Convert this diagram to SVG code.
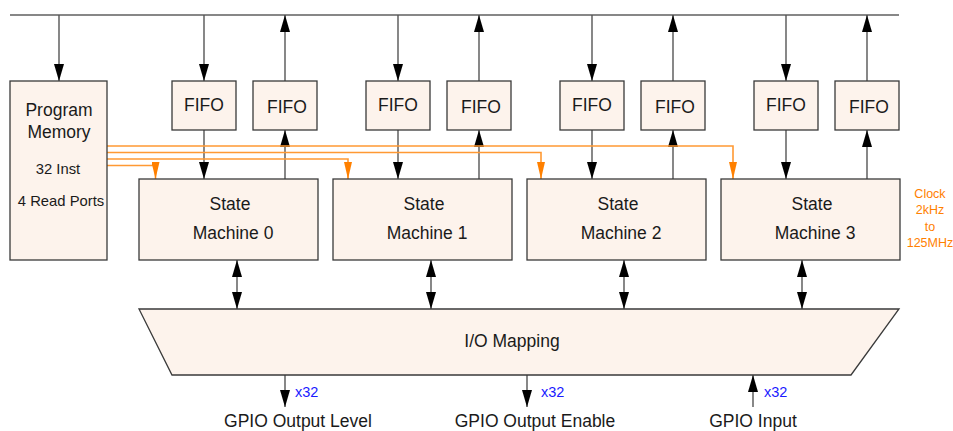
<svg xmlns="http://www.w3.org/2000/svg" width="953" height="431" viewBox="0 0 953 431">
<defs>
<style>
.box{fill:#fdf3ec;stroke:#3a3a3a;stroke-width:1.3}
.t{font-family:"Liberation Sans",Arial,sans-serif;font-size:17.5px;fill:#1a1a1a;text-anchor:middle}
.s{font-family:"Liberation Sans",Arial,sans-serif;font-size:14.8px;fill:#1a1a1a;text-anchor:middle}
.x32{font-family:"Liberation Sans",Arial,sans-serif;font-size:14.5px;fill:#1a1aff}
.clk{font-family:"Liberation Sans",Arial,sans-serif;font-size:12.5px;fill:#ff8000;text-anchor:middle}
.ln{fill:none;stroke:#555;stroke-width:1.4}
.bus{fill:none;stroke:#111;stroke-width:1.2}
.or{fill:none;stroke:#ff9933;stroke-width:1.6}
</style>
<marker id="ah" markerUnits="userSpaceOnUse" markerWidth="17" markerHeight="10" refX="17" refY="5" orient="auto-start-reverse"><path d="M0,0 L17,5 L0,10 z" fill="#000"/></marker>
<marker id="oh" markerUnits="userSpaceOnUse" markerWidth="17" markerHeight="8" refX="17" refY="4" orient="auto"><path d="M0,0 L17,4 L0,8 z" fill="#ff8000"/></marker>
</defs>
<rect width="953" height="431" fill="#fff"/>

<g id="connectors">
<line class="bus" x1="10" y1="15" x2="899" y2="15"/>
<line class="ln" x1="59" y1="15" x2="59" y2="81" marker-end="url(#ah)"/>
<line class="ln" x1="204" y1="15" x2="204" y2="81" marker-end="url(#ah)"/>
<line class="ln" x1="204" y1="130" x2="204" y2="179" marker-end="url(#ah)"/>
<line class="ln" x1="285" y1="179" x2="285" y2="130" marker-end="url(#ah)"/>
<line class="ln" x1="285" y1="81" x2="285" y2="15" marker-end="url(#ah)"/>
<line class="ln" x1="398" y1="15" x2="398" y2="81" marker-end="url(#ah)"/>
<line class="ln" x1="398" y1="130" x2="398" y2="179" marker-end="url(#ah)"/>
<line class="ln" x1="479" y1="179" x2="479" y2="130" marker-end="url(#ah)"/>
<line class="ln" x1="479" y1="81" x2="479" y2="15" marker-end="url(#ah)"/>
<line class="ln" x1="592" y1="15" x2="592" y2="81" marker-end="url(#ah)"/>
<line class="ln" x1="592" y1="130" x2="592" y2="179" marker-end="url(#ah)"/>
<line class="ln" x1="673" y1="179" x2="673" y2="130" marker-end="url(#ah)"/>
<line class="ln" x1="673" y1="81" x2="673" y2="15" marker-end="url(#ah)"/>
<line class="ln" x1="786" y1="15" x2="786" y2="81" marker-end="url(#ah)"/>
<line class="ln" x1="786" y1="130" x2="786" y2="179" marker-end="url(#ah)"/>
<line class="ln" x1="867" y1="179" x2="867" y2="130" marker-end="url(#ah)"/>
<line class="ln" x1="867" y1="81" x2="867" y2="15" marker-end="url(#ah)"/>
<polyline class="or" points="107,146 733,146 733,179" marker-end="url(#oh)"/>
<polyline class="or" points="107,152.5 541,152.5 541,179" marker-end="url(#oh)"/>
<polyline class="or" points="107,159 348,159 348,179" marker-end="url(#oh)"/>
<polyline class="or" points="107,165.5 155.5,165.5 155.5,179" marker-end="url(#oh)"/>
<line class="ln" x1="237" y1="260" x2="237" y2="309" marker-start="url(#ah)" marker-end="url(#ah)"/>
<line class="ln" x1="431" y1="260" x2="431" y2="309" marker-start="url(#ah)" marker-end="url(#ah)"/>
<line class="ln" x1="624" y1="260" x2="624" y2="309" marker-start="url(#ah)" marker-end="url(#ah)"/>
<line class="ln" x1="802" y1="260" x2="802" y2="309" marker-start="url(#ah)" marker-end="url(#ah)"/>
<line class="ln" x1="285" y1="375" x2="285" y2="407" marker-end="url(#ah)"/>
<line class="ln" x1="527" y1="375" x2="527" y2="407" marker-end="url(#ah)"/>
<line class="ln" x1="753" y1="407" x2="753" y2="375" marker-end="url(#ah)"/>
</g>

<g id="program-memory">
<rect class="box" x="10" y="81" width="97" height="179"/>
<text class="t" x="59" y="115.5">Program</text>
<text class="t" x="59" y="138">Memory</text>
<text class="s" x="58" y="174">32 Inst</text>
<text class="s" x="61" y="205.5">4 Read Ports</text>
</g>

<g id="fifo-in-0"><rect class="box" x="172" y="81" width="64" height="49"/><text class="t" x="204" y="111">FIFO</text></g>
<g id="fifo-out-0"><rect class="box" x="253" y="81" width="64" height="49"/><text class="t" x="287" y="113">FIFO</text></g>
<g id="fifo-in-1"><rect class="box" x="366" y="81" width="64" height="49"/><text class="t" x="398" y="111">FIFO</text></g>
<g id="fifo-out-1"><rect class="box" x="447" y="81" width="64" height="49"/><text class="t" x="481" y="113">FIFO</text></g>
<g id="fifo-in-2"><rect class="box" x="560" y="81" width="64" height="49"/><text class="t" x="592" y="111">FIFO</text></g>
<g id="fifo-out-2"><rect class="box" x="641" y="81" width="64" height="49"/><text class="t" x="675" y="113">FIFO</text></g>
<g id="fifo-in-3"><rect class="box" x="754" y="81" width="64" height="49"/><text class="t" x="786" y="111">FIFO</text></g>
<g id="fifo-out-3"><rect class="box" x="835" y="81" width="64" height="49"/><text class="t" x="869" y="113">FIFO</text></g>

<g id="sm0"><rect class="box" x="139" y="179" width="179" height="81"/><text class="t" x="230" y="210">State</text><text class="t" x="233" y="239">Machine 0</text></g>
<g id="sm1"><rect class="box" x="333" y="179" width="179" height="81"/><text class="t" x="424" y="210">State</text><text class="t" x="427" y="239">Machine 1</text></g>
<g id="sm2"><rect class="box" x="527" y="179" width="179" height="81"/><text class="t" x="618" y="210">State</text><text class="t" x="621" y="239">Machine 2</text></g>
<g id="sm3"><rect class="box" x="721" y="179" width="179" height="81"/><text class="t" x="812" y="210">State</text><text class="t" x="815" y="239">Machine 3</text></g>

<g id="clock">
<text class="clk" x="930" y="197.5">Clock</text>
<text class="clk" x="930" y="214">2kHz</text>
<text class="clk" x="930" y="231">to</text>
<text class="clk" x="930" y="246.5">125MHz</text>
</g>

<g id="io-mapping">
<polygon class="box" points="139,309 899,309 851,375 172,375"/>
<text class="t" x="512" y="347">I/O Mapping</text>
</g>

<g id="gpio-labels">
<text class="x32" x="295" y="397">x32</text>
<text class="x32" x="541" y="397">x32</text>
<text class="x32" x="764" y="397">x32</text>
<text class="t" x="298" y="426.5">GPIO Output Level</text>
<text class="t" x="535" y="426.5">GPIO Output Enable</text>
<text class="t" x="753" y="426.5">GPIO Input</text>
</g>
</svg>
